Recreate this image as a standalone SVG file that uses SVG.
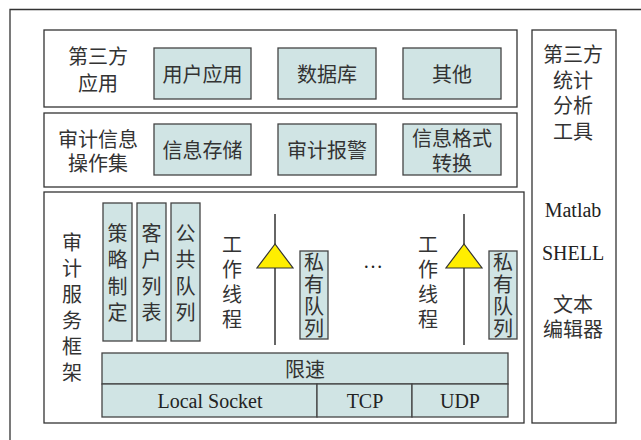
<svg xmlns="http://www.w3.org/2000/svg" width="641" height="440" viewBox="0 0 641 440">
<style>
.frame{fill:#fff;stroke:#333;stroke-width:1.3}
.box{fill:#d0e4e4;stroke:#444;stroke-width:1.3}
.zh{font-family:"Noto Sans CJK SC","Noto Sans CJK JP",sans-serif;font-size:20px;fill:#333;text-anchor:middle;dominant-baseline:central}
.vt{font-family:"Noto Sans CJK SC","Noto Sans CJK JP",sans-serif;font-size:20px;fill:#333;text-anchor:middle;writing-mode:vertical-rl}
.en{font-family:"Liberation Serif","Noto Serif",serif;font-size:20px;fill:#222;text-anchor:middle;dominant-baseline:central}
.axis{stroke:#666;stroke-width:2;fill:none}
.tri{fill:#ffee00;stroke:#333;stroke-width:1.2}
</style>
<rect width="641" height="440" fill="#fff"/>
<g id="outer">
<path d="M10,440 V9.5 H641" fill="none" stroke="#333" stroke-width="1.3"/>
</g>
<g id="row1">
<rect class="frame" x="44" y="30" width="473" height="77"/>
<text class="zh" x="98" y="55">第三方<tspan x="98" dy="27">应用</tspan></text>
</g>
<g id="n-user"><rect class="box" x="154" y="48" width="97" height="51"/><text class="zh" x="202.5" y="73.5">用户应用</text></g>
<g id="n-db"><rect class="box" x="278" y="48" width="98" height="51"/><text class="zh" x="327" y="73.5">数据库</text></g>
<g id="n-other"><rect class="box" x="403" y="48" width="98" height="51"/><text class="zh" x="452" y="73.5">其他</text></g>
<g id="row2">
<rect class="frame" x="44" y="113" width="473" height="74"/>
<text class="zh" x="98" y="138">审计信息<tspan x="98" dy="24">操作集</tspan></text>
</g>
<g id="n-store"><rect class="box" x="154" y="124" width="97" height="51"/><text class="zh" x="202.5" y="149.5">信息存储</text></g>
<g id="n-alarm"><rect class="box" x="278" y="124" width="98" height="51"/><text class="zh" x="327" y="149.5">审计报警</text></g>
<g id="n-format"><rect class="box" x="403" y="124" width="98" height="51"/><text class="zh" x="452" y="137">信息格式<tspan x="452" dy="25">转换</tspan></text></g>
<g id="tools">
<rect class="frame" x="532" y="30" width="84" height="393"/>
<text class="zh" x="573" y="53">第三方<tspan x="573" dy="26">统计</tspan><tspan x="573" dy="25">分析</tspan><tspan x="573" dy="26">工具</tspan></text>
<text class="en" x="573" y="210">Matlab</text>
<text class="en" x="573" y="253">SHELL</text>
<text class="zh" x="573" y="303">文本<tspan x="573" dy="25">编辑器</tspan></text>
</g>
<g id="row3">
<rect class="frame" x="44" y="192" width="480" height="231"/>
<text class="vt" x="72" y="310" letter-spacing="6">审计服务框架</text>
</g>
<g id="n-policy"><rect class="box" x="103" y="203" width="29" height="138"/>
<text class="vt" x="117.5" y="276" letter-spacing="6.5">策略制定</text></g>
<g id="n-client"><rect class="box" x="137" y="203" width="29" height="138"/>
<text class="vt" x="151.5" y="276" letter-spacing="6.5">客户列表</text></g>
<g id="n-public"><rect class="box" x="171" y="203" width="29" height="138"/>
<text class="vt" x="185.5" y="276" letter-spacing="6.5">公共队列</text></g>
<g id="worker1">
<text class="vt" x="232" y="284" letter-spacing="5">工作线程</text>
</g>
<g id="n-private1"><rect class="box" x="300" y="251" width="28" height="88"/>
<text class="vt" x="314" y="296" letter-spacing="2">私有队列</text></g>
<text class="en" x="373" y="261">…</text>
<g id="worker2">
<text class="vt" x="428" y="284" letter-spacing="5">工作线程</text>
</g>
<g id="n-private2"><rect class="box" x="489" y="251" width="28" height="88"/>
<text class="vt" x="503" y="296" letter-spacing="2">私有队列</text></g>
<g id="connectors">
<line class="axis" x1="275" y1="214" x2="275" y2="345"/>
<polygon class="tri" points="275,244 257,268 293,268"/>
<line class="axis" x1="464" y1="214" x2="464" y2="345"/>
<polygon class="tri" points="464,244 446,268 482,268"/>
</g>
<g id="n-limit"><rect class="box" x="102" y="353" width="406" height="31"/><text class="zh" x="305" y="368">限速</text></g>
<g id="n-local"><rect class="box" x="102" y="384" width="215" height="33"/><text class="en" x="210" y="401">Local Socket</text></g>
<g id="n-tcp"><rect class="box" x="317" y="384" width="95" height="33"/><text class="en" x="365" y="401">TCP</text></g>
<g id="n-udp"><rect class="box" x="412" y="384" width="96" height="33"/><text class="en" x="460" y="401">UDP</text></g>
</svg>
